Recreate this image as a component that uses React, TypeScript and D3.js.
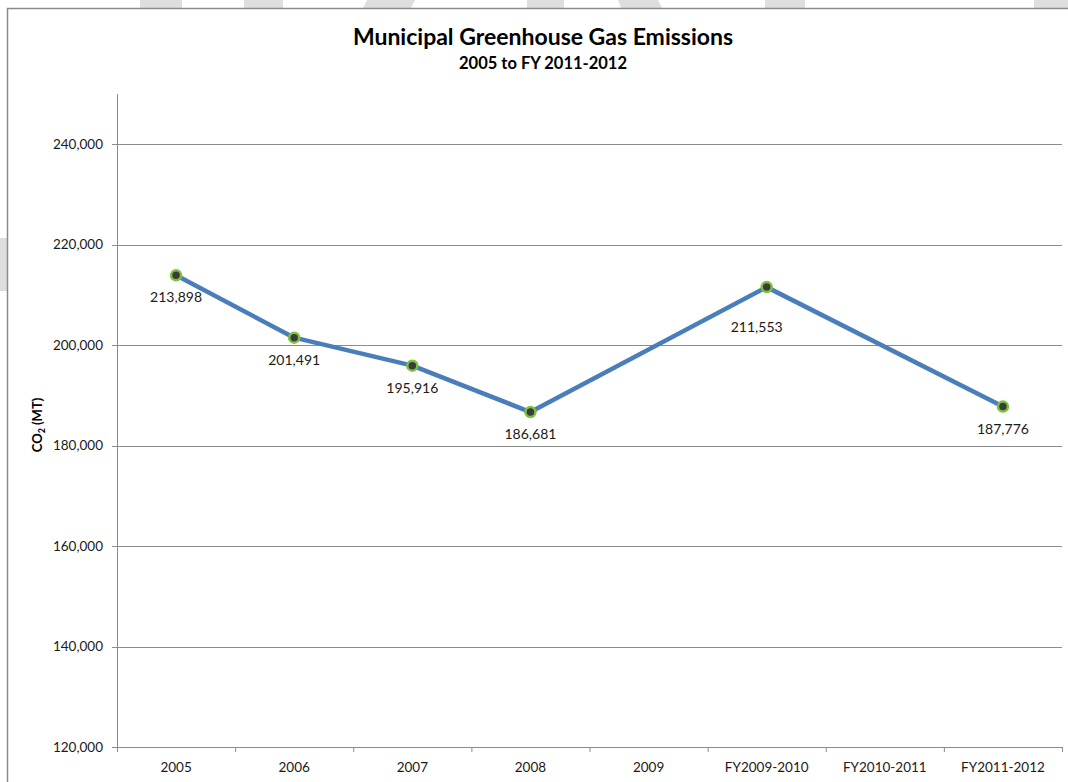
import React from "react";
import * as d3 from "d3";

const categories = ["2005", "2006", "2007", "2008", "2009", "FY2009-2010", "FY2010-2011", "FY2011-2012"];
const emissions: (number | null)[] = [213898, 201491, 195916, 186681, null, 211553, null, 187776];
const yTicks = [120000, 140000, 160000, 180000, 200000, 220000, 240000];
const yDomain = [120000, 250000];

const W = 1068;
const H = 782;
const FONT = "Lato, 'Open Sans', sans-serif";

// light gray background pattern pieces peeking out around the frame
const bgPieces: [number, number][][] = [
  [[140, 0], [182, 0], [182, 8], [140, 8]],
  [[244, 0], [283, 0], [283, 8], [244, 8]],
  [[367, 0], [415, 0], [411, 8], [363, 8]],
  [[527, 0], [564, 0], [564, 8], [527, 8]],
  [[618, 0], [658, 0], [662, 8], [621, 8]],
  [[765, 0], [805, 0], [805, 8], [765, 8]],
  [[1034, 0], [1068, 0], [1068, 8], [1034, 8]],
  [[0, 238], [7, 238], [7, 291], [0, 291]],
];

// data label nudges, for labels moved off the line
const labelNudge: Record<string, [number, number]> = {
  "FY2009-2010": [-10, 18],
};

export default function App() {
  const x = d3.scaleBand<string>().domain(categories).range([117, 1062]);
  const y = d3.scaleLinear().domain(yDomain).range([747, 94]);
  const cx = (c: string) => (x(c) ?? 0) + x.bandwidth() / 2;

  const pts = categories
    .map((c, i) => ({ c, v: emissions[i] }))
    .filter((d) => d.v !== null) as { c: string; v: number }[];

  const line = d3
    .line<{ c: string; v: number }>()
    .x((d) => cx(d.c))
    .y((d) => y(d.v));

  const fmt = d3.format(",");
  const [x0, x1] = x.range();
  const tickXs = categories.map((c) => x(c) ?? 0).concat([x1]);

  return (
    <svg
      width={W}
      height={H}
      style={{ position: "absolute", left: 0, top: 0, background: "#fff" }}
      fontFamily={FONT}
    >
      {bgPieces.map((p, i) => (
        <polygon key={i} points={p.map((q) => q.join(",")).join(" ")} fill="#dedede" />
      ))}
      {/* frame */}
      <path d={`M7.5,${H} L7.5,8.5 L${W},8.5`} fill="none" stroke="#8a8a8a" strokeWidth={1.5} />

      {/* title */}
      <text x={543} y={45} textAnchor="middle" fontSize={23} fontWeight="bold" fill="#000">
        Municipal Greenhouse Gas Emissions
      </text>
      <text x={543} y={69} textAnchor="middle" fontSize={16.5} fontWeight="bold" fill="#000">
        2005 to FY 2011-2012
      </text>

      {/* grid + y ticks */}
      {yTicks.map((t) => (
        <g key={t}>
          <line x1={112} x2={x1} y1={Math.round(y(t)) + 0.5} y2={Math.round(y(t)) + 0.5} stroke="#8c8c8c" strokeWidth={1} />
          <text x={103} y={y(t) + 4.5} textAnchor="end" fontSize={13.5} fill="#1a1a1a">
            {fmt(t)}
          </text>
        </g>
      ))}
      {/* y axis */}
      <line x1={x0 + 0.5} x2={x0 + 0.5} y1={y(yDomain[1])} y2={y(yDomain[0])} stroke="#8c8c8c" />
      {/* x axis ticks */}
      {tickXs.map((tx, i) => (
        <line key={i} x1={tx + 0.5} x2={tx + 0.5} y1={y(yDomain[0])} y2={y(yDomain[0]) + 5} stroke="#8c8c8c" />
      ))}
      {categories.map((c) => (
        <text key={c} x={cx(c)} y={772} textAnchor="middle" fontSize={13.5} fill="#1a1a1a">
          {c}
        </text>
      ))}

      {/* y axis title */}
      <text
        transform={`translate(42,${425}) rotate(-90)`}
        textAnchor="middle"
        fontSize={13}
        fontWeight="bold"
        fill="#000"
      >
        CO
        <tspan fontSize={9} dy={3}>2</tspan>
        <tspan dy={-3}> (MT)</tspan>
      </text>

      {/* series */}
      <path d={line(pts) ?? ""} fill="none" stroke="#4a7ebb" strokeWidth={4.5} strokeLinejoin="round" />
      {pts.map((d) => {
        const [ndx, ndy] = labelNudge[d.c] ?? [0, 0];
        return (
          <g key={d.c}>
            <circle cx={cx(d.c)} cy={y(d.v)} r={5} fill="#3c3c3c" stroke="#7dc13f" strokeWidth={2.5} />
            <text x={cx(d.c) + ndx} y={y(d.v) + 27 + ndy} textAnchor="middle" fontSize={14} fill="#1a1a1a">
              {fmt(d.v)}
            </text>
          </g>
        );
      })}
    </svg>
  );
}
